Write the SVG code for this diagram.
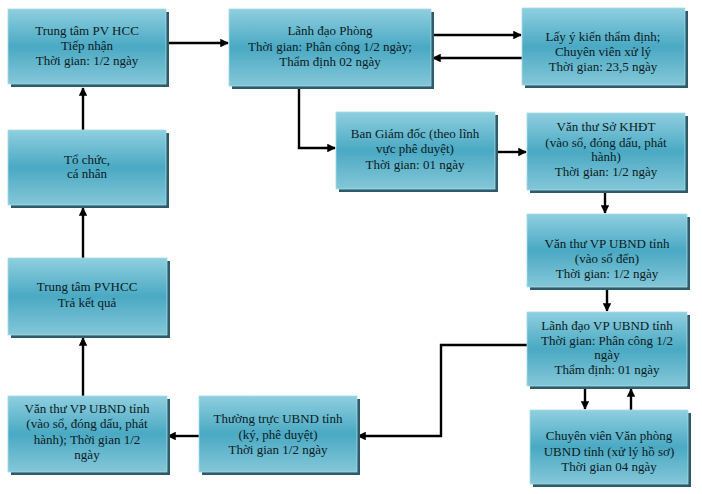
<svg xmlns="http://www.w3.org/2000/svg" width="702" height="494" viewBox="0 0 702 494">
<defs>
<linearGradient id="g" x1="0" y1="0" x2="0" y2="1">
<stop offset="0" stop-color="#8fcfdf"/>
<stop offset="0.5" stop-color="#4aa9c3"/>
<stop offset="1" stop-color="#84c7d8"/>
</linearGradient>
<marker id="ah" viewBox="0 0 10 10" refX="9" refY="5" markerWidth="3.6" markerHeight="3.6" orient="auto" markerUnits="strokeWidth">
<path d="M0,0 L10,5 L0,10 z" fill="#000"/>
</marker>
</defs>
<style>
.sh{fill:#2e5b69}
.bx{fill:url(#g);stroke:#a6dbe7;stroke-width:0.8}
text{font-family:"Liberation Serif","Times New Roman",serif;font-size:13px;fill:#0c1a22;text-anchor:middle}
.c{fill:none;stroke:#000;stroke-width:2.4;marker-end:url(#ah)}
</style>
<rect width="702" height="494" fill="#fff"/>

<g id="connectors">
<path class="c" d="M83,130 L83,88"/>
<path class="c" d="M83,258 L83,208"/>
<path class="c" d="M83,396 L83,338"/>
<path class="c" d="M199,436 L168,436"/>
<path class="c" d="M527,345 L441,345 L441,436 L358,436"/>
<path class="c" d="M166,43 L228,43"/>
<path class="c" d="M432,35 L521,35"/>
<path class="c" d="M522,58 L433,58"/>
<path class="c" d="M299,88 L299,148 L335,148"/>
<path class="c" d="M495,152 L526,152"/>
<path class="c" d="M605,192 L605,213"/>
<path class="c" d="M607,289 L607,311"/>
<path class="c" d="M585,388 L585,409"/>
<path class="c" d="M631,410 L631,389"/>
</g>

<g id="n1">
<rect class="sh" x="11" y="12" width="158" height="75"/>
<rect class="bx" x="8" y="9" width="158" height="75"/>
<text x="87" y="35">Trung tâm PV HCC</text>
<text x="87" y="50">Tiếp nhận</text>
<text x="87" y="65">Thời gian: 1/2 ngày</text>
</g>

<g id="n2">
<rect class="sh" x="232" y="12" width="202" height="77"/>
<rect class="bx" x="229" y="9" width="202" height="77"/>
<text x="330" y="35">Lãnh đạo Phòng</text>
<text x="330" y="51">Thời gian: Phân công 1/2 ngày;</text>
<text x="330" y="66">Thẩm định 02 ngày</text>
</g>

<g id="n3">
<rect class="sh" x="525" y="11" width="163" height="77"/>
<rect class="bx" x="522" y="8" width="163" height="77"/>
<text x="603" y="41">Lấy ý kiến thẩm định;</text>
<text x="603" y="56">Chuyên viên xử lý</text>
<text x="603" y="71">Thời gian: 23,5 ngày</text>
</g>

<g id="n4">
<rect class="sh" x="11" y="133" width="158" height="75"/>
<rect class="bx" x="8" y="130" width="158" height="75"/>
<text x="87" y="164">Tổ chức,</text>
<text x="87" y="178">cá nhân</text>
</g>

<g id="n5">
<rect class="sh" x="339" y="115" width="159" height="77"/>
<rect class="bx" x="336" y="112" width="159" height="77"/>
<text x="415" y="138">Ban Giám đốc (theo lĩnh</text>
<text x="415" y="153">vực phê duyệt)</text>
<text x="415" y="169">Thời gian: 01 ngày</text>
</g>

<g id="n6">
<rect class="sh" x="530" y="116" width="158" height="77"/>
<rect class="bx" x="527" y="113" width="158" height="77"/>
<text x="606" y="131">Văn thư Sở KHĐT</text>
<text x="606" y="147">(vào sổ, đóng dấu, phát</text>
<text x="606" y="161">hành)</text>
<text x="606" y="176">Thời gian: 1/2 ngày</text>
</g>

<g id="n7">
<rect class="sh" x="530" y="217" width="160" height="73"/>
<rect class="bx" x="527" y="214" width="160" height="73"/>
<text x="607" y="248">Văn thư VP UBND tỉnh</text>
<text x="607" y="263">(vào sổ đến)</text>
<text x="607" y="278">Thời gian: 1/2 ngày</text>
</g>

<g id="n8">
<rect class="sh" x="530" y="315" width="160" height="74"/>
<rect class="bx" x="527" y="312" width="160" height="74"/>
<text x="607" y="330">Lãnh đạo VP UBND tỉnh</text>
<text x="607" y="345">Thời gian: Phân công 1/2</text>
<text x="607" y="359">ngày</text>
<text x="607" y="374">Thẩm định: 01 ngày</text>
</g>

<g id="n9">
<rect class="sh" x="533" y="413" width="158" height="74"/>
<rect class="bx" x="530" y="410" width="158" height="74"/>
<text x="609" y="440">Chuyên viên Văn phòng</text>
<text x="609" y="456">UBND tỉnh (xử lý hồ sơ)</text>
<text x="609" y="471">Thời gian 04 ngày</text>
</g>

<g id="n10">
<rect class="sh" x="202" y="399" width="158" height="76"/>
<rect class="bx" x="199" y="396" width="158" height="76"/>
<text x="278" y="423">Thường trực UBND tỉnh</text>
<text x="278" y="439">(ký, phê duyệt)</text>
<text x="278" y="454">Thời gian 1/2 ngày</text>
</g>

<g id="n11">
<rect class="sh" x="11" y="399" width="159" height="76"/>
<rect class="bx" x="8" y="396" width="159" height="76"/>
<text x="87" y="413">Văn thư VP UBND tỉnh</text>
<text x="87" y="428">(vào sổ, đóng dấu, phát</text>
<text x="87" y="444">hành); Thời gian 1/2</text>
<text x="87" y="459">ngày</text>
</g>

<g id="n12">
<rect class="sh" x="11" y="261" width="159" height="77"/>
<rect class="bx" x="8" y="258" width="159" height="77"/>
<text x="87" y="291">Trung tâm PVHCC</text>
<text x="87" y="307">Trả kết quả</text>
</g>
</svg>
